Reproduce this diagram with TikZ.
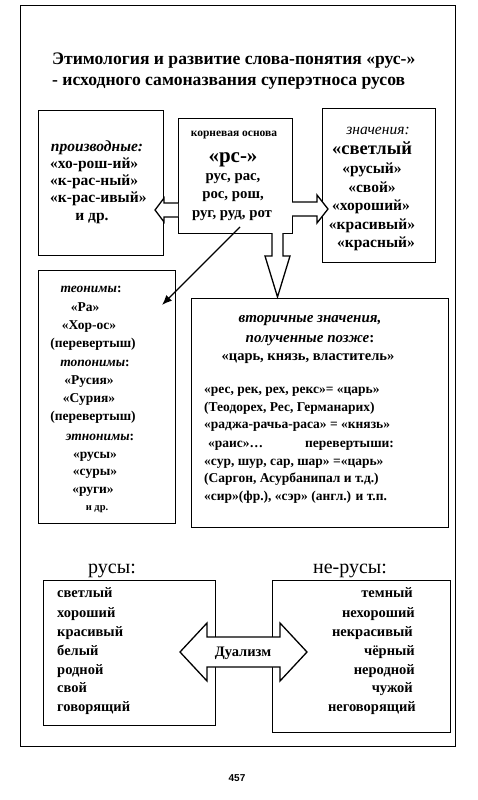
\documentclass[tikz,border=0pt]{standalone}
\usepackage{fontspec}
\setmainfont{Liberation Serif}
\newfontfamily\pagefont{Liberation Sans}
\usetikzlibrary{arrows.meta}
\newcommand\myfb{\bfseries\fontsize{13.5}{16}\selectfont}
\newcommand\myfbL{\bfseries\fontsize{15.5}{18}\selectfont}
\newcommand\myfbR{\bfseries\fontsize{14.8}{18}\selectfont}
\newcommand\myfbB{\bfseries\fontsize{14.5}{18}\selectfont}
\newcommand\myfbiL{\bfseries\itshape\fontsize{15.5}{18}\selectfont}
\newcommand\myfbiS{\bfseries\itshape\fontsize{15}{18}\selectfont}
\newcommand\myfiL{\itshape\fontsize{15.5}{18}\selectfont}
\newcommand\myfsmall{\bfseries\fontsize{11.5}{13}\selectfont}
\newcommand\myfsm{\bfseries\fontsize{10.5}{12}\selectfont}
\newcommand\myfbig{\bfseries\fontsize{21}{24}\selectfont}
\newcommand\myfbl{\bfseries\fontsize{18.5}{21}\selectfont}
\newcommand\myflab{\fontsize{20}{23}\selectfont}
\newcommand\myttl{\bfseries\fontsize{17.6}{20}\selectfont}
\begin{document}
\begin{tikzpicture}[x=1pt,y=-1pt,
  frame/.style={draw,line width=1.1pt,anchor=north west,inner sep=0pt},
  box/.style={draw,line width=1.4pt,anchor=north west,inner sep=0pt,fill=white},
  ln/.style={inner sep=0pt,anchor=base,font=\myfb},
  lnl/.style={inner sep=0pt,anchor=base west,font=\myfb},
  lnr/.style={inner sep=0pt,anchor=base east,font=\myfbB},
  blk/.style={draw,line width=1.3pt,fill=white,line join=miter},
]
\useasboundingbox (0,0) rectangle (477,800);
\node[frame,minimum width=435pt,minimum height=741pt] (outer) at (20,5) {};
% title
\node[lnl,font=\myttl] (t1) at (52,65) {Этимология и развитие слова-понятия «рус-»};
\node[lnl,font=\myttl] (t2) at (52,85) {- исходного самоназвания суперэтноса русов};
% boxes
\node[box,minimum width=125pt,minimum height=145pt] (deriv) at (38,110) {};
\node[box,minimum width=114pt,minimum height=115pt] (root) at (178,118) {};
\node[box,minimum width=113pt,minimum height=154pt] (mean) at (322,108) {};
\node[box,minimum width=137pt,minimum height=253pt] (names) at (38,270) {};
\node[box,minimum width=257pt,minimum height=229pt] (sec) at (191,298) {};
\node[box,minimum width=172pt,minimum height=145pt] (rus) at (43,580) {};
\node[box,minimum width=178pt,minimum height=152pt] (nrus) at (272,580) {};
% block arrows
\draw[blk] (178,203) -- (164,203) -- (164,198) -- (155,210) -- (164,222) -- (164,217) -- (178,217);
\draw[blk] (292,202) -- (317,202) -- (317,195) -- (328,209) -- (317,223) -- (317,216) -- (292,216);
\draw[blk] (272,233) -- (272,256) -- (265,256) -- (277.5,297) -- (290,256) -- (283,256) -- (283,233);
\draw[blk] (180,652) -- (207,623) -- (207,637) -- (280,637) -- (280,623) -- (307,652) -- (280,681) -- (280,667) -- (207,667) -- (207,681) -- cycle;
% diagonal arrow
\coordinate (dA) at (240,227);
\coordinate (dB) at (162,305);
\draw[line width=1.3pt,-{Latex[length=10pt,width=8pt]}] (dA) -- (dB);
% deriv text
\node[ln,font=\myfbiL] (d0) at (97,151) {производные:};
\node[lnl,font=\myfbL] (d1) at (50,168) {«хо-рош-ий»};
\node[lnl,font=\myfbL] (d2) at (50,185) {«к-рас-ный»};
\node[lnl,font=\myfbL] (d3) at (50,202) {«к-рас-ивый»};
\node[ln,font=\myfbL] (d4) at (92,220) {и др.};
% root text
\node[ln,font=\myfsmall] (r0) at (234,136) {корневая основа};
\node[ln,font=\myfbig] (r1) at (233,162) {«рс-»};
\node[ln,font=\myfbR] (r2) at (233,180) {рус, рас,};
\node[ln,font=\myfbR] (r3) at (233,198) {рос, рош,};
\node[ln,font=\myfbR] (r4) at (232,217) {руг, руд, рот};
% meanings
\node[ln,font=\myfiL] (m0) at (378,134) {значения:};
\node[ln,font=\myfbl] (m1) at (372,154) {«светлый};
\node[ln,font=\myfbL] (m2) at (372,173) {«русый»};
\node[ln,font=\myfbL] (m3) at (372,192) {«свой»};
\node[ln,font=\myfbL] (m4) at (371,210) {«хороший»};
\node[ln,font=\myfbL] (m5) at (372,229) {«красивый»};
\node[ln,font=\myfbL] (m6) at (376,247) {«красный»};
% names
\node[ln] (n0) at (91,292) {\textit{теонимы}:};
\node[ln] (n1) at (85,311) {«Ра»};
\node[ln] (n2) at (89,329) {«Хор-ос»};
\node[ln] (n3) at (93,347) {(перевертыш)};
\node[ln] (n4) at (95,366) {\textit{топонимы}:};
\node[ln] (n5) at (89,384) {«Русия»};
\node[ln] (n6) at (89,402) {«Сурия»};
\node[ln] (n7) at (93,420) {(перевертыш)};
\node[ln] (n8) at (100,440) {\textit{этнонимы}:};
\node[ln] (n9) at (95,458) {«русы»};
\node[ln] (n10) at (95,475) {«суры»};
\node[ln] (n11) at (93,493) {«руги»};
\node[ln,font=\myfsm] (n12) at (97,510) {и др.};
% secondary
\node[ln,font=\myfbiS] (s0) at (310,322) {вторичные значения,};
\node[ln,font=\myfbiS] (s1) at (310,342) {полученные позже\textup{:}};
\node[ln,font=\myfbB] (s2) at (308,360) {«царь, князь, властитель»};
\node[lnl] (s3) at (204,393) {«рес, рек, рех, рекс»= «царь»};
\node[lnl] (s4) at (204,411) {(Теодорех, Рес, Германарих)};
\node[lnl] (s5) at (204,428) {«раджа-рачьа-раса» = «князь»};
\node[lnl] (s6) at (208,447) {«раис»…};
\node[lnl] (s7) at (305,447) {перевертыши:};
\node[lnl] (s8) at (204,465) {«сур, шур, сар, шар» =«царь»};
\node[lnl] (s9) at (204,482) {(Саргон, Асурбанипал и т.д.)};
\node[lnl] (s10) at (204,500) {«сир»(фр.), «сэр» (англ.) и т.п.};
% bottom
\node[ln,font=\myflab] (lr) at (112,573) {русы:};
\node[ln,font=\myflab] (lnrr) at (350,573) {не-русы:};
\node[lnl,font=\myfbB] (a1) at (57,597) {светлый};
\node[lnl,font=\myfbB] (a2) at (57,617) {хороший};
\node[lnl,font=\myfbB] (a3) at (57,636) {красивый};
\node[lnl,font=\myfbB] (a4) at (57,655) {белый};
\node[lnl,font=\myfbB] (a5) at (57,674) {родной};
\node[lnl,font=\myfbB] (a6) at (57,692) {свой};
\node[lnl,font=\myfbB] (a7) at (57,711) {говорящий};
\node[lnr] (b1) at (413,597) {темный};
\node[lnr] (b2) at (415,617) {нехороший};
\node[lnr] (b3) at (413,636) {некрасивый};
\node[lnr] (b4) at (415,655) {чёрный};
\node[lnr] (b5) at (415,674) {неродной};
\node[lnr] (b6) at (413,692) {чужой};
\node[lnr] (b7) at (416,711) {неговорящий};
\node[ln,font=\myfbB] (dual) at (243,656) {Дуализм};
\node[ln,font=\pagefont\bfseries\fontsize{10}{12}\selectfont] (pg) at (237,781) {457};
\end{tikzpicture}
\end{document}
